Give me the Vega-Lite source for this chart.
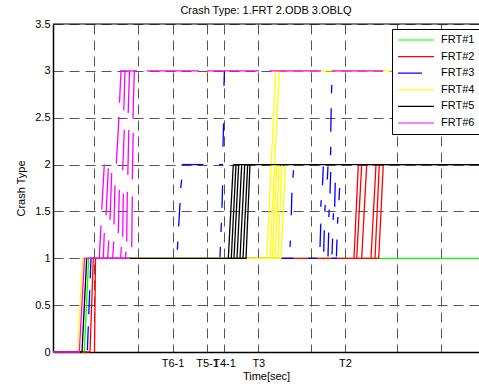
{
  "$schema": "https://vega.github.io/schema/vega-lite/v6.json",
  "width": 426,
  "height": 328,
  "autosize": {"type": "none"},
  "padding": {"left": 53, "top": 24, "right": 0, "bottom": 34},
  "title": {"text": "Crash Type: 1.FRT 2.ODB 3.OBLQ", "fontSize": 11, "fontWeight": "normal", "font": "Liberation Sans", "color": "black", "offset": 2},
  "config": {
    "view": {"stroke": null},
    "font": "Liberation Sans",
    "axis": {"labelFont": "Liberation Sans", "titleFont": "Liberation Sans", "labelFontSize": 11, "titleFontSize": 11, "titleFontWeight": "normal", "labelColor": "black", "titleColor": "black", "domainColor": "black", "domainWidth": 1.5, "ticks": false, "grid": true, "gridDash": [10, 6], "gridColor": "#555", "gridWidth": 1}
  },
  "layer": [
    {
      "data": {"values": [{"top": 3.5}]},
      "mark": {"type": "rule", "color": "black", "strokeWidth": 1.2},
      "encoding": {"y": {"field": "top", "type": "quantitative"}}
    },
    {
      "data": {"values": [
        {"s":"FRT#1","g":1,"o":0,"x":0,"y":0},{"s":"FRT#1","g":1,"o":1,"x":31.3,"y":0},{"s":"FRT#1","g":1,"o":2,"x":35.7,"y":1},{"s":"FRT#1","g":1,"o":3,"x":426,"y":1},

        {"s":"FRT#2","g":2,"o":0,"x":0,"y":0},{"s":"FRT#2","g":2,"o":1,"x":37,"y":0},{"s":"FRT#2","g":2,"o":2,"x":40.3,"y":1},{"s":"FRT#2","g":2,"o":3,"x":326.3,"y":1},
        {"s":"FRT#2","g":3,"o":0,"x":41.5,"y":0},{"s":"FRT#2","g":3,"o":1,"x":42.5,"y":1},
        {"s":"FRT#2","g":4,"o":0,"x":301,"y":1},{"s":"FRT#2","g":4,"o":1,"x":305.3,"y":2},
        {"s":"FRT#2","g":5,"o":0,"x":303.7,"y":1},{"s":"FRT#2","g":5,"o":1,"x":308.7,"y":2},
        {"s":"FRT#2","g":6,"o":0,"x":308.7,"y":1},{"s":"FRT#2","g":6,"o":1,"x":313.7,"y":2},
        {"s":"FRT#2","g":7,"o":0,"x":318,"y":1},{"s":"FRT#2","g":7,"o":1,"x":323,"y":2},
        {"s":"FRT#2","g":8,"o":0,"x":322,"y":1},{"s":"FRT#2","g":8,"o":1,"x":326.3,"y":2},
        {"s":"FRT#2","g":9,"o":0,"x":325.7,"y":1},{"s":"FRT#2","g":9,"o":1,"x":330.3,"y":2},
        {"s":"FRT#2","g":10,"o":0,"x":305.3,"y":2},{"s":"FRT#2","g":10,"o":1,"x":426,"y":2},

        {"s":"FRT#3","g":11,"o":0,"x":0,"y":0},{"s":"FRT#3","g":11,"o":1,"x":34.3,"y":0},{"s":"FRT#3","g":11,"o":2,"x":38,"y":1},{"s":"FRT#3","g":11,"o":3,"x":50,"y":1},
        {"s":"FRT#3","g":12,"o":0,"x":124.4,"y":1.09},{"s":"FRT#3","g":12,"o":1,"x":124.8,"y":1.18},
        {"s":"FRT#3","g":13,"o":0,"x":125.7,"y":1.34},{"s":"FRT#3","g":13,"o":1,"x":127,"y":1.59},
        {"s":"FRT#3","g":14,"o":0,"x":127.7,"y":1.75},{"s":"FRT#3","g":14,"o":1,"x":128.7,"y":1.84},
        {"s":"FRT#3","g":15,"o":0,"x":128.7,"y":2},{"s":"FRT#3","g":15,"o":1,"x":150.3,"y":2},
        {"s":"FRT#3","g":16,"o":0,"x":167,"y":1.01},{"s":"FRT#3","g":16,"o":1,"x":167.4,"y":1.12},
        {"s":"FRT#3","g":17,"o":0,"x":168,"y":1.28},{"s":"FRT#3","g":17,"o":1,"x":168.4,"y":1.38},
        {"s":"FRT#3","g":18,"o":0,"x":169,"y":1.54},{"s":"FRT#3","g":18,"o":1,"x":169.6,"y":1.78},
        {"s":"FRT#3","g":19,"o":0,"x":170,"y":2.19},{"s":"FRT#3","g":19,"o":1,"x":170.6,"y":2.44},
        {"s":"FRT#3","g":20,"o":0,"x":171,"y":2.84},{"s":"FRT#3","g":20,"o":1,"x":171.4,"y":3},
        {"s":"FRT#3","g":21,"o":0,"x":166,"y":2},{"s":"FRT#3","g":21,"o":1,"x":170,"y":2},
        {"s":"FRT#3","g":22,"o":0,"x":228.7,"y":1},{"s":"FRT#3","g":22,"o":1,"x":240.3,"y":1},
        {"s":"FRT#3","g":23,"o":0,"x":237,"y":1.12},{"s":"FRT#3","g":23,"o":1,"x":237.4,"y":1.19},
        {"s":"FRT#3","g":24,"o":0,"x":238.3,"y":1.46},{"s":"FRT#3","g":24,"o":1,"x":238.9,"y":1.7},
        {"s":"FRT#3","g":25,"o":0,"x":240,"y":1.86},{"s":"FRT#3","g":25,"o":1,"x":240.5,"y":1.94},
        {"s":"FRT#3","g":26,"o":0,"x":255.3,"y":1},{"s":"FRT#3","g":26,"o":1,"x":263.7,"y":1},
        {"s":"FRT#3","g":27,"o":0,"x":279,"y":1},{"s":"FRT#3","g":27,"o":1,"x":284,"y":1},
        {"s":"FRT#3","g":28,"o":0,"x":269.5,"y":1.78},{"s":"FRT#3","g":28,"o":1,"x":270.3,"y":1.98},
        {"s":"FRT#3","g":29,"o":0,"x":274.3,"y":1.84},{"s":"FRT#3","g":29,"o":1,"x":275,"y":1.98},
        {"s":"FRT#3","g":30,"o":0,"x":277,"y":1.69},{"s":"FRT#3","g":30,"o":1,"x":277.7,"y":1.92},
        {"s":"FRT#3","g":31,"o":0,"x":281.7,"y":1.55},{"s":"FRT#3","g":31,"o":1,"x":282.3,"y":1.84},
        {"s":"FRT#3","g":32,"o":0,"x":286,"y":1.62},{"s":"FRT#3","g":32,"o":1,"x":286.6,"y":1.75},
        {"s":"FRT#3","g":33,"o":0,"x":267.8,"y":1.55},{"s":"FRT#3","g":33,"o":1,"x":268.2,"y":1.62},
        {"s":"FRT#3","g":34,"o":0,"x":271.8,"y":1.5},{"s":"FRT#3","g":34,"o":1,"x":272.2,"y":1.57},
        {"s":"FRT#3","g":35,"o":0,"x":275.8,"y":1.44},{"s":"FRT#3","g":35,"o":1,"x":276.2,"y":1.52},
        {"s":"FRT#3","g":36,"o":0,"x":280.1,"y":1.41},{"s":"FRT#3","g":36,"o":1,"x":280.5,"y":1.48},
        {"s":"FRT#3","g":37,"o":0,"x":284.5,"y":1.37},{"s":"FRT#3","g":37,"o":1,"x":284.9,"y":1.44},
        {"s":"FRT#3","g":38,"o":0,"x":267,"y":1.12},{"s":"FRT#3","g":38,"o":1,"x":267.8,"y":1.37},
        {"s":"FRT#3","g":39,"o":0,"x":270.7,"y":1.07},{"s":"FRT#3","g":39,"o":1,"x":271.3,"y":1.3},
        {"s":"FRT#3","g":40,"o":0,"x":275,"y":1.02},{"s":"FRT#3","g":40,"o":1,"x":275.7,"y":1.28},
        {"s":"FRT#3","g":41,"o":0,"x":279,"y":1.04},{"s":"FRT#3","g":41,"o":1,"x":279.6,"y":1.21},
        {"s":"FRT#3","g":42,"o":0,"x":283.4,"y":1.02},{"s":"FRT#3","g":42,"o":1,"x":284,"y":1.2},
        {"s":"FRT#3","g":43,"o":0,"x":277.5,"y":2.1},{"s":"FRT#3","g":43,"o":1,"x":277.8,"y":2.19},
        {"s":"FRT#3","g":44,"o":0,"x":277.8,"y":2.35},{"s":"FRT#3","g":44,"o":1,"x":278.2,"y":2.6},
        {"s":"FRT#3","g":45,"o":0,"x":278.5,"y":2.76},{"s":"FRT#3","g":45,"o":1,"x":278.8,"y":2.85},

        {"s":"FRT#4","g":46,"o":0,"x":0,"y":0},{"s":"FRT#4","g":46,"o":1,"x":24.5,"y":0},{"s":"FRT#4","g":46,"o":2,"x":29.7,"y":1},{"s":"FRT#4","g":46,"o":3,"x":228,"y":1},
        {"s":"FRT#4","g":47,"o":0,"x":213.7,"y":1},{"s":"FRT#4","g":47,"o":1,"x":222.7,"y":3},
        {"s":"FRT#4","g":48,"o":0,"x":217,"y":1},{"s":"FRT#4","g":48,"o":1,"x":226.3,"y":3},
        {"s":"FRT#4","g":49,"o":0,"x":219.3,"y":1},{"s":"FRT#4","g":49,"o":1,"x":223.7,"y":2},
        {"s":"FRT#4","g":50,"o":0,"x":222,"y":1},{"s":"FRT#4","g":50,"o":1,"x":226.3,"y":2},
        {"s":"FRT#4","g":51,"o":0,"x":224.7,"y":1},{"s":"FRT#4","g":51,"o":1,"x":229,"y":2},
        {"s":"FRT#4","g":52,"o":0,"x":228,"y":1},{"s":"FRT#4","g":52,"o":1,"x":232.5,"y":2},
        {"s":"FRT#4","g":53,"o":0,"x":222.7,"y":3},{"s":"FRT#4","g":53,"o":1,"x":426,"y":3},

        {"s":"FRT#5","g":54,"o":0,"x":0,"y":0},{"s":"FRT#5","g":54,"o":1,"x":29,"y":0},{"s":"FRT#5","g":54,"o":2,"x":33.7,"y":1},{"s":"FRT#5","g":54,"o":3,"x":193.7,"y":1},
        {"s":"FRT#5","g":55,"o":0,"x":175.3,"y":1},{"s":"FRT#5","g":55,"o":1,"x":180.3,"y":2},
        {"s":"FRT#5","g":56,"o":0,"x":178.3,"y":1},{"s":"FRT#5","g":56,"o":1,"x":183,"y":2},
        {"s":"FRT#5","g":57,"o":0,"x":181,"y":1},{"s":"FRT#5","g":57,"o":1,"x":185.7,"y":2},
        {"s":"FRT#5","g":58,"o":0,"x":184,"y":1},{"s":"FRT#5","g":58,"o":1,"x":188.7,"y":2},
        {"s":"FRT#5","g":59,"o":0,"x":187,"y":1},{"s":"FRT#5","g":59,"o":1,"x":191.7,"y":2},
        {"s":"FRT#5","g":60,"o":0,"x":190,"y":1},{"s":"FRT#5","g":60,"o":1,"x":194.7,"y":2},
        {"s":"FRT#5","g":61,"o":0,"x":193,"y":1},{"s":"FRT#5","g":61,"o":1,"x":197,"y":2},
        {"s":"FRT#5","g":62,"o":0,"x":180.3,"y":2},{"s":"FRT#5","g":62,"o":1,"x":426,"y":2},

        {"s":"FRT#6","g":63,"o":0,"x":0,"y":0},{"s":"FRT#6","g":63,"o":1,"x":26.3,"y":0},{"s":"FRT#6","g":63,"o":2,"x":31.5,"y":1},{"s":"FRT#6","g":63,"o":3,"x":77,"y":1},
        {"s":"FRT#6","g":64,"o":0,"x":66.5,"y":2.66},{"s":"FRT#6","g":64,"o":1,"x":68,"y":3},
        {"s":"FRT#6","g":65,"o":0,"x":70.8,"y":2.58},{"s":"FRT#6","g":65,"o":1,"x":72,"y":3},
        {"s":"FRT#6","g":66,"o":0,"x":75.2,"y":2.55},{"s":"FRT#6","g":66,"o":1,"x":76.5,"y":3},
        {"s":"FRT#6","g":67,"o":0,"x":80,"y":2.49},{"s":"FRT#6","g":67,"o":1,"x":81.3,"y":3},
        {"s":"FRT#6","g":68,"o":0,"x":63.3,"y":2.01},{"s":"FRT#6","g":68,"o":1,"x":66,"y":2.51},
        {"s":"FRT#6","g":69,"o":0,"x":69.7,"y":1.94},{"s":"FRT#6","g":69,"o":1,"x":71.3,"y":2.37},
        {"s":"FRT#6","g":70,"o":0,"x":74.8,"y":1.89},{"s":"FRT#6","g":70,"o":1,"x":75.8,"y":2.37},
        {"s":"FRT#6","g":71,"o":0,"x":79.3,"y":1.84},{"s":"FRT#6","g":71,"o":1,"x":80.2,"y":2.34},
        {"s":"FRT#6","g":72,"o":0,"x":48.7,"y":1.52},{"s":"FRT#6","g":72,"o":1,"x":51.3,"y":2},
        {"s":"FRT#6","g":73,"o":0,"x":53,"y":1.46},{"s":"FRT#6","g":73,"o":1,"x":55.3,"y":1.96},
        {"s":"FRT#6","g":74,"o":0,"x":57,"y":1.41},{"s":"FRT#6","g":74,"o":1,"x":58.7,"y":1.91},
        {"s":"FRT#6","g":75,"o":0,"x":61,"y":1.36},{"s":"FRT#6","g":75,"o":1,"x":62,"y":1.78},
        {"s":"FRT#6","g":76,"o":0,"x":65.3,"y":1.27},{"s":"FRT#6","g":76,"o":1,"x":66.3,"y":1.73},
        {"s":"FRT#6","g":77,"o":0,"x":69.7,"y":1.23},{"s":"FRT#6","g":77,"o":1,"x":70.3,"y":1.69},
        {"s":"FRT#6","g":78,"o":0,"x":73.7,"y":1.18},{"s":"FRT#6","g":78,"o":1,"x":74.3,"y":1.71},
        {"s":"FRT#6","g":79,"o":0,"x":78.7,"y":1.12},{"s":"FRT#6","g":79,"o":1,"x":79.3,"y":1.66},
        {"s":"FRT#6","g":80,"o":0,"x":46.3,"y":1},{"s":"FRT#6","g":80,"o":1,"x":48,"y":1.35},
        {"s":"FRT#6","g":81,"o":0,"x":50.3,"y":1},{"s":"FRT#6","g":81,"o":1,"x":51.3,"y":1.27},
        {"s":"FRT#6","g":82,"o":0,"x":54.7,"y":1},{"s":"FRT#6","g":82,"o":1,"x":55.7,"y":1.19},
        {"s":"FRT#6","g":83,"o":0,"x":59.7,"y":1},{"s":"FRT#6","g":83,"o":1,"x":60.7,"y":1.18},
        {"s":"FRT#6","g":84,"o":0,"x":67.7,"y":1},{"s":"FRT#6","g":84,"o":1,"x":68.3,"y":1.12},
        {"s":"FRT#6","g":85,"o":0,"x":72.3,"y":1},{"s":"FRT#6","g":85,"o":1,"x":73,"y":1.07},
        {"s":"FRT#6","g":86,"o":0,"x":67,"y":3},{"s":"FRT#6","g":86,"o":1,"x":84,"y":3},
        {"s":"FRT#6","g":87,"o":0,"x":94,"y":3},{"s":"FRT#6","g":87,"o":1,"x":146,"y":3},
        {"s":"FRT#6","g":88,"o":0,"x":154,"y":3},{"s":"FRT#6","g":88,"o":1,"x":206,"y":3},
        {"s":"FRT#6","g":89,"o":0,"x":216.5,"y":3},{"s":"FRT#6","g":89,"o":1,"x":268,"y":3},
        {"s":"FRT#6","g":90,"o":0,"x":279,"y":3},{"s":"FRT#6","g":90,"o":1,"x":330,"y":3},
        {"s":"FRT#6","g":91,"o":0,"x":339,"y":3},{"s":"FRT#6","g":91,"o":1,"x":426,"y":3}
      ]},
      "mark": {"type": "line", "strokeWidth": 1.3},
      "encoding": {
        "x": {"field": "x", "type": "quantitative", "scale": {"domain": [0, 426], "nice": false, "zero": false},
          "axis": {"title": "Time[sec]", "values": [41, 84.7, 119.5, 154, 171, 205.3, 258.3, 292, 343.7, 387.7],
            "labelExpr": "datum.value == 119.5 ? 'T6-1' : datum.value == 154 ? 'T5-1' : datum.value == 171 ? 'T4-1' : datum.value == 205.3 ? 'T3' : datum.value == 292 ? 'T2' : ''",
            "labelOverlap": false, "labelFlush": false, "labelBound": false, "labelPadding": 5, "titlePadding": 2}},
        "y": {"field": "y", "type": "quantitative", "scale": {"domain": [0, 3.5], "nice": false},
          "axis": {"title": "Crash Type", "values": [0, 0.5, 1, 1.5, 2, 2.5, 3, 3.5], "format": "~g", "labelPadding": 3, "titlePadding": 8}},
        "color": {"field": "s", "type": "nominal",
          "scale": {"domain": ["FRT#1", "FRT#2", "FRT#3", "FRT#4", "FRT#5", "FRT#6"], "range": ["#00ff00", "#ff0000", "#0000ff", "#ffff00", "#000000", "#ff00ff"]},
          "legend": {"orient": "none", "legendX": 339, "legendY": 5, "title": null, "symbolType": "stroke", "symbolSize": 1296, "symbolStrokeWidth": 1.2, "clipHeight": 12, "rowPadding": 4.6, "padding": 5, "labelOffset": 6, "labelFontSize": 11, "labelFont": "Liberation Sans", "labelColor": "black", "strokeColor": "black", "fillColor": "white", "direction": "vertical"}},
        "strokeDash": {"field": "s", "type": "nominal",
          "scale": {"domain": ["FRT#1", "FRT#2", "FRT#3", "FRT#4", "FRT#5", "FRT#6"], "range": [[1, 0], [1, 0], [24, 12], [1, 0], [1, 0], [1, 0]]},
          "legend": {"orient": "none", "legendX": 339, "legendY": 5, "title": null, "symbolType": "stroke", "symbolSize": 1296, "symbolStrokeWidth": 1.2, "clipHeight": 12, "rowPadding": 4.6, "padding": 5, "labelOffset": 6, "labelFontSize": 11, "labelFont": "Liberation Sans", "labelColor": "black", "strokeColor": "black", "fillColor": "white", "direction": "vertical"}},
        "detail": {"field": "g", "type": "nominal"},
        "order": {"field": "o", "type": "quantitative"}
      }
    }
  ]
}
